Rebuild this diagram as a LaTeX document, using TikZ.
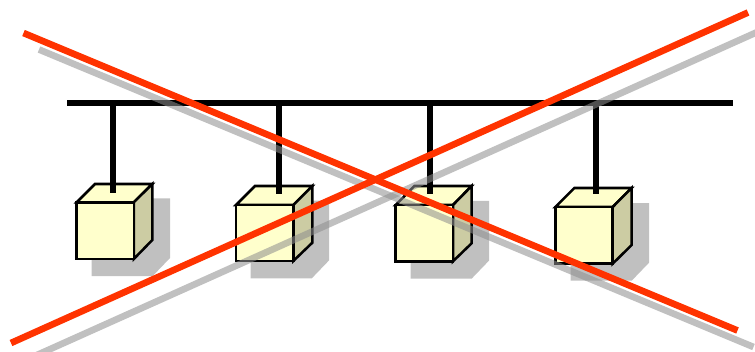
\documentclass[tikz,border=0pt]{standalone}
\definecolor{cubefront}{RGB}{255,255,204}
\definecolor{cubeside}{RGB}{204,204,163}
\definecolor{castgray}{RGB}{192,192,192}
\definecolor{crossred}{RGB}{255,51,0}
\definecolor{crossgray}{RGB}{143,143,143}
\tikzset{
  frontface/.style={fill=cubefront,draw=black,line width=1.9pt,line join=miter},
  sideface/.style={fill=cubeside,draw=black,line width=1.9pt,line join=miter},
  castshadow/.style={fill=castgray,draw=none},
  busline/.style={draw=black,line width=4.6pt},
  stemline/.style={draw=black,line width=4.6pt},
  crossline/.style={draw=crossred,line width=5pt},
  crossshadow/.style={draw=crossgray,opacity=.56,line width=5pt}
}
% #1 left, #2 front top, #3 front right, #4 front bottom, #5 back left, #6 back top, #7 back bottom
% #8 shadow left, #9 shadow top
\newcommand{\boxunit}[9]{%
  \fill[castshadow] (#8,#9) -- ({#8+78.5},#9) -- ({#8+78.5},{#9+59.5}) -- ({#8+61},{#9+77.7}) -- (#8,{#9+77.7}) -- cycle;
  \path[frontface] (#1,#2) -- (#5,#6) -- ({#5+57.3},#6) -- (#3,#2) -- cycle;
  \path[sideface] (#3,#2) -- ({#5+57.3},#6) -- ({#5+57.3},#7) -- (#3,#4) -- cycle;
  \path[frontface] (#1,#2) rectangle (#3,#4);
}
\begin{document}
\begin{tikzpicture}[x=0.75pt,y=-0.75pt]
\useasboundingbox (0,0) rectangle (755,351);
\clip (0,0) rectangle (755,351);
\boxunit{76.7}{202.3}{133.8}{259}{95}{184}{240}{91.7}{198.3}
\boxunit{236}{205}{293.3}{261}{255}{186}{242.7}{250.7}{200.7}
\boxunit{395.7}{205}{453}{261.3}{414.3}{186}{243.3}{410.7}{200.9}
\boxunit{555.3}{207}{612.7}{263.7}{574.3}{188}{245}{570.7}{203}
\coordinate (busL) at (67,103);
\coordinate (busR) at (733,103);
\coordinate (tapA) at (112.7,103);
\coordinate (tapB) at (278.7,103);
\coordinate (tapC) at (430.3,103);
\coordinate (tapD) at (596.3,103);
\coordinate (endA) at (112.7,193);
\coordinate (endB) at (278.7,193.5);
\coordinate (endC) at (430.3,193.5);
\coordinate (endD) at (596.3,193.5);
\draw[stemline] (tapA) -- (endA);
\draw[stemline] (tapB) -- (endB);
\draw[stemline] (tapC) -- (endC);
\draw[stemline] (tapD) -- (endD);
\draw[busline] (busL) -- (busR);
\coordinate (downS) at (23.5,33);
\coordinate (downE) at (737.5,330.5);
\coordinate (upS) at (11,343);
\coordinate (upE) at (748,12.5);
\coordinate (sdownS) at (39,49.5);
\coordinate (sdownE) at (753.5,347);
\coordinate (supS) at (27,359.5);
\coordinate (supE) at (764,29);
\draw[crossshadow] (sdownS) -- (sdownE);
\draw[crossshadow] (supS) -- (supE);
\draw[crossline] (downS) -- (downE);
\draw[crossline] (upS) -- (upE);
\end{tikzpicture}
\end{document}
